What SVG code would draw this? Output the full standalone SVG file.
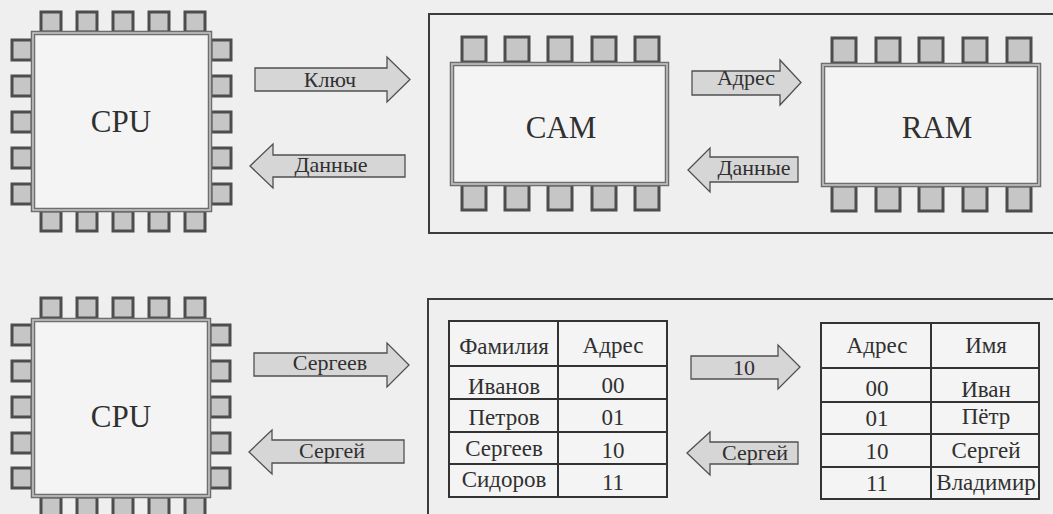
<svg xmlns="http://www.w3.org/2000/svg" width="1053" height="514" viewBox="0 0 1053 514">
<style>
.bg{fill:#efefef}
.pin{fill:#c6c6c6;stroke:#4d4d4d;stroke-width:3}
.body1{fill:#f4f4f4;stroke:#6e6e6e;stroke-width:4.5}
.body2{fill:none;stroke:#c4c4c4;stroke-width:1.6}
.frame{fill:none;stroke:#3c3c3c;stroke-width:2}
.arrow{fill:#d6d6d6;stroke:#505050;stroke-width:1.3;stroke-linejoin:miter}
.tbl{fill:#f4f4f4;stroke:#333;stroke-width:2}
.ln{stroke:#333;stroke-width:2}
text{fill:#303030;text-anchor:middle}
.big{font-size:31px}
.lbl{font-size:22px}
.cell{font-size:23px}
</style>
<defs>
<rect id="pinS" width="20" height="20" class="pin"/>
<rect id="pinL" width="24" height="25" class="pin"/>
</defs>
<rect class="bg" x="0" y="0" width="1053" height="514"/>

<g id="frames">
<path class="frame" d="M1053 14 H429 V233 H1053"/>
<path class="frame" d="M1053 299 H428 V514"/>
</g>

<g font-family="'Liberation Serif', 'DejaVu Serif', serif">
<g id="cpu-top">
<use href="#pinS" x="41" y="12"/><use href="#pinS" x="77" y="12"/><use href="#pinS" x="113" y="12"/><use href="#pinS" x="149" y="12"/><use href="#pinS" x="185" y="12"/>
<use href="#pinS" x="41" y="211"/><use href="#pinS" x="77" y="211"/><use href="#pinS" x="113" y="211"/><use href="#pinS" x="149" y="211"/><use href="#pinS" x="185" y="211"/>
<use href="#pinS" x="12" y="40"/><use href="#pinS" x="12" y="76"/><use href="#pinS" x="12" y="112"/><use href="#pinS" x="12" y="148"/><use href="#pinS" x="12" y="184"/>
<use href="#pinS" x="211" y="40"/><use href="#pinS" x="211" y="76"/><use href="#pinS" x="211" y="112"/><use href="#pinS" x="211" y="148"/><use href="#pinS" x="211" y="184"/>
<rect class="body1" x="33" y="33" width="177" height="177"/>
<rect class="body2" x="33" y="33" width="177" height="177"/>
<text class="big" x="121" y="132" font-family="Liberation Serif, serif">CPU</text>
</g>

<g id="cam">
<use href="#pinL" x="462" y="37"/><use href="#pinL" x="505" y="37"/><use href="#pinL" x="548" y="37"/><use href="#pinL" x="592" y="37"/><use href="#pinL" x="635" y="37"/>
<use href="#pinL" x="462" y="185"/><use href="#pinL" x="505" y="185"/><use href="#pinL" x="548" y="185"/><use href="#pinL" x="592" y="185"/><use href="#pinL" x="635" y="185"/>
<rect class="body1" x="452" y="64" width="215" height="120"/>
<rect class="body2" x="452" y="64" width="215" height="120"/>
<text class="big" x="561" y="138">CAM</text>
</g>

<g id="ram">
<use href="#pinL" x="832" y="38"/><use href="#pinL" x="876" y="38"/><use href="#pinL" x="919" y="38"/><use href="#pinL" x="963" y="38"/><use href="#pinL" x="1007" y="38"/>
<use href="#pinL" x="832" y="186"/><use href="#pinL" x="876" y="186"/><use href="#pinL" x="919" y="186"/><use href="#pinL" x="963" y="186"/><use href="#pinL" x="1007" y="186"/>
<rect class="body1" x="823" y="65" width="216" height="120"/>
<rect class="body2" x="823" y="65" width="216" height="120"/>
<text class="big" x="937" y="138">RAM</text>
</g>

<g id="cpu-bottom">
<use href="#pinS" x="41" y="298"/><use href="#pinS" x="77" y="298"/><use href="#pinS" x="113" y="298"/><use href="#pinS" x="149" y="298"/><use href="#pinS" x="185" y="298"/>
<use href="#pinS" x="41" y="497"/><use href="#pinS" x="77" y="497"/><use href="#pinS" x="113" y="497"/><use href="#pinS" x="149" y="497"/><use href="#pinS" x="185" y="497"/>
<use href="#pinS" x="12" y="325"/><use href="#pinS" x="12" y="361"/><use href="#pinS" x="12" y="397"/><use href="#pinS" x="12" y="433"/><use href="#pinS" x="12" y="468"/>
<use href="#pinS" x="210" y="325"/><use href="#pinS" x="210" y="361"/><use href="#pinS" x="210" y="397"/><use href="#pinS" x="210" y="433"/><use href="#pinS" x="210" y="468"/>
<rect class="body1" x="33" y="320" width="176" height="176"/>
<rect class="body2" x="33" y="320" width="176" height="176"/>
<text class="big" x="121" y="427">CPU</text>
</g>

<g id="cam-table">
<rect class="tbl" x="449" y="321" width="218" height="176"/>
<line class="ln" x1="558" y1="321" x2="558" y2="497"/>
<line class="ln" x1="449" y1="366" x2="667" y2="366"/>
<line class="ln" x1="449" y1="399" x2="667" y2="399"/>
<line class="ln" x1="449" y1="432" x2="667" y2="432"/>
<line class="ln" x1="449" y1="464" x2="667" y2="464"/>
<text class="cell" x="504" y="354">Фамилия</text>
<text class="cell" x="613" y="353">Адрес</text>
<text class="cell" x="504" y="394">Иванов</text>
<text class="cell" x="504" y="425">Петров</text>
<text class="cell" x="504" y="456">Сергеев</text>
<text class="cell" x="504" y="487">Сидоров</text>
<text class="cell" x="613" y="393">00</text>
<text class="cell" x="613" y="425">01</text>
<text class="cell" x="613" y="458">10</text>
<text class="cell" x="613" y="490">11</text>
</g>

<g id="ram-table">
<rect class="tbl" x="821" y="323" width="218" height="176"/>
<line class="ln" x1="931" y1="323" x2="931" y2="499"/>
<line class="ln" x1="821" y1="368" x2="1039" y2="368"/>
<line class="ln" x1="821" y1="402" x2="1039" y2="402"/>
<line class="ln" x1="821" y1="434" x2="1039" y2="434"/>
<line class="ln" x1="821" y1="467" x2="1039" y2="467"/>
<text class="cell" x="877" y="353">Адрес</text>
<text class="cell" x="986" y="353">Имя</text>
<text class="cell" x="877" y="396">00</text>
<text class="cell" x="877" y="426">01</text>
<text class="cell" x="877" y="459">10</text>
<text class="cell" x="877" y="491">11</text>
<text class="cell" x="986" y="397">Иван</text>
<text class="cell" x="986" y="424">Пётр</text>
<text class="cell" x="986" y="458">Сергей</text>
<text class="cell" x="986" y="490">Владимир</text>
</g>

<g id="connectors">
<polygon class="arrow" points="255,68 387,68 387,57 410,79.5 387,102 387,91 255,91"/>
<text class="lbl" x="330" y="87">Ключ</text>
<polygon class="arrow" points="250,166 273,144 273,155 405,155 405,177 273,177 273,188"/>
<text class="lbl" x="331" y="172">Данные</text>
<polygon class="arrow" points="692,71 780,71 780,60 801,82.5 780,105 780,95 692,95"/>
<text class="lbl" x="746" y="85">Адрес</text>
<polygon class="arrow" points="688,170 710,148 710,157 798,157 798,182 710,182 710,192"/>
<text class="lbl" x="754" y="175">Данные</text>
<polygon class="arrow" points="254,353 387,353 387,343 409,365 387,387 387,376 254,376"/>
<text class="lbl" x="330" y="370">Сергеев</text>
<polygon class="arrow" points="249,452 272,430 272,440 404,440 404,463 272,463 272,474"/>
<text class="lbl" x="332" y="458">Сергей</text>
<polygon class="arrow" points="691,356 778,356 778,345 800,367 778,389 778,379 691,379"/>
<text class="lbl" x="744" y="375">10</text>
<polygon class="arrow" points="687,453 710,432 710,442 798,442 798,464 710,464 710,475"/>
<text class="lbl" x="755" y="460">Сергей</text>
</g>
</g>
</svg>
